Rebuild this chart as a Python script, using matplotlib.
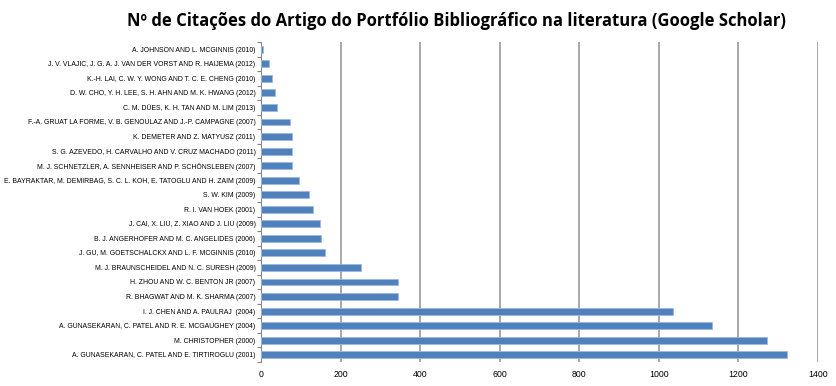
import numpy as np
import matplotlib.pyplot as plt

# categorias (de cima para baixo, como no grafico original)
autores = [
    'A. JOHNSON AND L. MCGINNIS (2010)',
    'J. V. VLAJIC, J. G. A. J. VAN DER VORST AND R. HAIJEMA (2012)',
    'K.-H. LAI, C. W. Y. WONG AND T. C. E. CHENG (2010)',
    'D. W. CHO, Y. H. LEE, S. H. AHN AND M. K. HWANG (2012)',
    'C. M. DÜES, K. H. TAN AND M. LIM (2013)',
    'F.-A. GRUAT LA FORME, V. B. GENOULAZ AND J.-P. CAMPAGNE (2007)',
    'K. DEMETER AND Z. MATYUSZ (2011)',
    'S. G. AZEVEDO, H. CARVALHO AND V. CRUZ MACHADO (2011)',
    'M. J. SCHNETZLER, A. SENNHEISER AND P. SCHÖNSLEBEN (2007)',
    'E. BAYRAKTAR, M. DEMIRBAG, S. C. L. KOH, E. TATOGLU AND H. ZAIM (2009)',
    'S. W. KIM (2009)',
    'R. I. VAN HOEK (2001)',
    'J. CAI, X. LIU, Z. XIAO AND J. LIU (2009)',
    'B. J. ANGERHOFER AND M. C. ANGELIDES (2006)',
    'J. GU, M. GOETSCHALCKX AND L. F. MCGINNIS (2010)',
    'M. J. BRAUNSCHEIDEL AND N. C. SURESH (2009)',
    'H. ZHOU AND W. C. BENTON JR (2007)',
    'R. BHAGWAT AND M. K. SHARMA (2007)',
    'I. J. CHEN AND A. PAULRAJ  (2004)',
    'A. GUNASEKARAN, C. PATEL AND R. E. MCGAUGHEY (2004)',
    'M. CHRISTOPHER (2000)',
    'A. GUNASEKARAN, C. PATEL AND E. TIRTIROGLU (2001)',
]
citacoes = [4, 21, 28, 36, 39, 72, 77, 77, 79, 95, 120, 131, 148, 150,
            160, 252, 345, 345, 1036, 1133, 1271, 1322]

x_ticks = [0, 200, 400, 600, 800, 1000, 1200, 1400]

plt.rcParams['font.family'] = ['Liberation Sans', 'DejaVu Sans']

fig = plt.figure(figsize=(8.36, 3.86), dpi=100)
ax = fig.add_axes([261 / 836, 24 / 386, 557 / 836, 320 / 386])

y = np.arange(len(autores))[::-1]
ax.barh(y, citacoes, height=0.47, color='#4F81BD', edgecolor='#9DB9DD', linewidth=0.6, zorder=3)

ax.set_xlim(0, 1400)
ax.set_ylim(-0.5, len(autores) - 0.5)
ax.set_xticks(x_ticks)
ax.set_xticklabels([str(t) for t in x_ticks], fontsize=6.3)
ax.set_yticks(y)
ax.set_yticklabels(autores, fontsize=4.95)
ax.set_yticks(np.arange(-0.5, len(autores), 1), minor=True)
ax.tick_params(axis='y', which='major', length=0, pad=4)
ax.tick_params(axis='y', which='minor', length=3, color='#868686', width=0.8)
ax.tick_params(axis='x', length=0, pad=6)

ax.grid(axis='x', color='#A0A0A0', linewidth=1.3, zorder=0)
for s in ['top', 'right', 'bottom']:
    ax.spines[s].set_visible(False)
ax.spines['left'].set_color('#868686')
ax.spines['left'].set_linewidth(0.8)

fig.text(0.546, 0.945, 'Nº de Citações do Artigo do Portfólio Bibliográfico na literatura (Google Scholar)',
         ha='center', va='center', fontsize=12, fontweight='bold', family=['Open Sans', 'DejaVu Sans'])

fig.savefig('out.png', dpi=100)
